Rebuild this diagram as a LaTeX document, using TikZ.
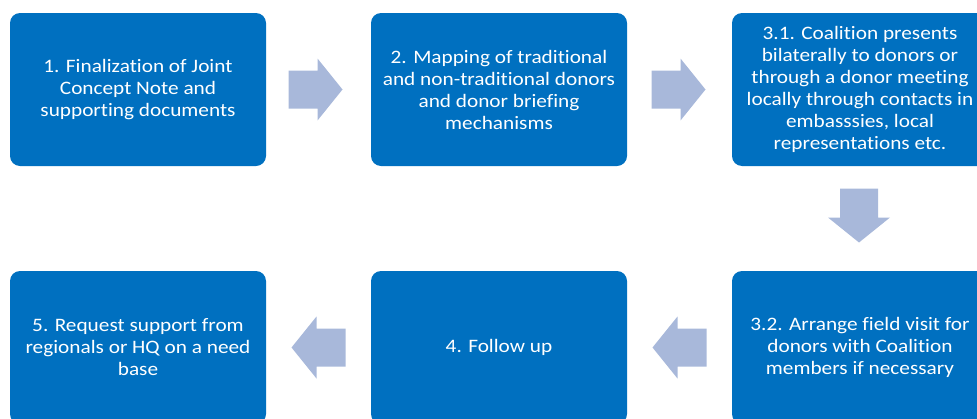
\documentclass[tikz,border=0pt]{standalone}
\usepackage{fontspec}
\setmainfont{Carlito}[FakeStretch=1.12,Ligatures=NoCommon]
\usetikzlibrary{calc}
\definecolor{boxblue}{HTML}{0070C0}
\definecolor{arrowblue}{HTML}{A8B8DA}
\tikzset{
  stepbox/.style={fill=boxblue, rounded corners=10pt, minimum width=256pt, minimum height=153pt,
    text=white, align=center, inner sep=0pt, font=\fontsize{19}{22}\selectfont},
  blockarrow/.pic={\fill[arrowblue] (-27,-19) -- (2,-19) -- (2,-31) -- (27,0) -- (2,31) -- (2,19) -- (-27,19) -- cycle;}
}
\begin{document}
\begin{tikzpicture}[x=1pt,y=-1pt]
\useasboundingbox (0,0) rectangle (977,418);
\clip (0,0) rectangle (977,418);
\node[stepbox] (b1) at (138,89.5) {1. Finalization of Joint\\Concept Note and\\supporting documents};
\node[stepbox] (b2) at (499,89.5) {2. Mapping of traditional\\and non-traditional donors\\and donor briefing\\mechanisms};
\node[stepbox] (b31) at (860,89.5) {3.1. Coalition presents\\bilaterally to donors or\\through a donor meeting\\locally through contacts in\\embasssies, local\\representations etc.};
\node[stepbox] (b32) at (860,347.5) {3.2. Arrange field visit for\\donors with Coalition\\members if necessary};
\node[stepbox] (b4) at (499,347.5) {4. Follow up};
\node[stepbox] (b5) at (138,347.5) {5. Request support from\\regionals or HQ on a need\\base};
\pic at ($(b1.east)!0.5!(b2.west)+(-3,0)$) {blockarrow};
\pic at ($(b2.east)!0.5!(b31.west)+(-1,0)$) {blockarrow};
\pic[rotate=-90] at ($(b31.south)!0.5!(b32.north)+(-1,-3)$) {blockarrow};
\pic[rotate=180] at ($(b32.west)!0.5!(b4.east)$) {blockarrow};
\pic[rotate=180] at ($(b4.west)!0.5!(b5.east)$) {blockarrow};
\end{tikzpicture}
\end{document}
